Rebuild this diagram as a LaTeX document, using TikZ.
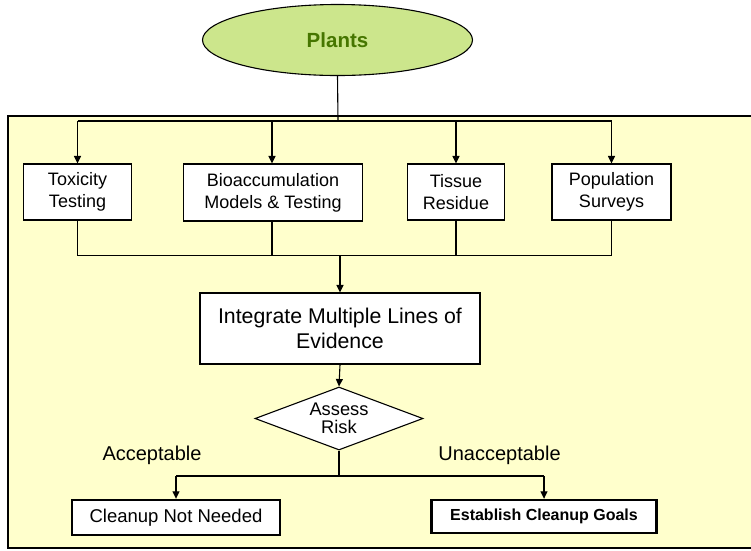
\documentclass[tikz,border=0pt]{standalone}
\usepackage{fontspec}
\setmainfont{Liberation Sans}
\usetikzlibrary{arrows.meta,shapes.geometric}
\definecolor{panelfill}{RGB}{255,255,204}
\definecolor{ellfill}{RGB}{204,230,140}
\definecolor{elltext}{RGB}{70,118,0}
\tikzset{
  line/.style={line width=1.1pt},
  arr/.style={line width=1.1pt,-{Triangle[length=7.5pt,width=7pt]}},
  stepbox/.style={draw=black,line width=1.1pt,fill=white,align=center,inner sep=0pt,
    font=\fontsize{18}{22}\selectfont},
  endbox/.style={draw=black,line width=2.4pt,fill=white,align=center,inner sep=0pt},
  lbl/.style={font=\fontsize{20}{24}\selectfont,inner sep=0pt}
}
\begin{document}
\begin{tikzpicture}[x=1pt,y=-1pt]
\useasboundingbox (0,0) rectangle (751,550);
% panel
\fill[panelfill] (8,116) rectangle (751,548);
\draw[line width=1.4pt] (751,116) -- (8,116) -- (8,548) -- (751,548);
% top ellipse
\node[ellipse,draw=black,line width=1.1pt,fill=ellfill,minimum width=270pt,minimum height=71pt,inner sep=0pt,
  font=\fontsize{20.5}{24}\selectfont\bfseries,text=elltext] (plants) at (337.5,40) {Plants};
% evidence boxes
\node[stepbox,minimum width=108pt,minimum height=56pt] (tox) at (77.5,192) {Toxicity\\Testing};
\node[stepbox,minimum width=179pt,minimum height=57pt] (bio) at (273,192.5) {Bioaccumulation\\Models \& Testing};
\node[stepbox,minimum width=97pt,minimum height=56pt] (tis) at (456,192) {Tissue\\Residue};
\node[stepbox,minimum width=119pt,minimum height=56pt] (pop) at (611.5,192) {Population\\Surveys};
% integrate
\node[stepbox,minimum width=280pt,minimum height=71pt,font=\fontsize{21.3}{25}\selectfont] (integ) at (340,328.5) {Integrate Multiple Lines of\\Evidence};
% diamond
\node[diamond,draw=black,line width=1.1pt,fill=white,minimum width=168pt,minimum height=63pt,inner sep=0pt] (risk) at (339,418.5) {};
\node[align=center,inner sep=0pt,font=\fontsize{18.3}{18}\selectfont] (risktext) at (339,418) {Assess\\Risk};
% outcomes
\node[endbox,minimum width=208pt,minimum height=35pt,font=\fontsize{18.5}{22}\selectfont] (clean) at (176,517.5) {Cleanup Not Needed};
\node[endbox,minimum width=225pt,minimum height=33pt,font=\fontsize{16}{20}\selectfont\bfseries] (goals) at (544,516.5) {Establish Cleanup Goals};
% labels
\node[lbl] (acc) at (152,455) {Acceptable};
\node[lbl] (unacc) at (499.5,455) {Unacceptable};
% connectors
\coordinate (bus) at (338,121);
\coordinate (join) at (340,255.5);
\coordinate (split) at (339,476);
\draw[line] (plants.south) -- (bus);
\draw[line] (tox.north |- bus) -- (pop.north |- bus);
\draw[arr] (tox.north |- bus) -- (tox.north);
\draw[arr] ([xshift=-1pt]bio.north |- bus) -- ([xshift=-1pt]bio.north);
\draw[arr] (tis.north |- bus) -- (tis.north);
\draw[arr] (pop.north |- bus) -- (pop.north);
\draw[line] (tox.south) -- (tox.south |- join) -- (pop.south |- join) -- (pop.south);
\draw[line] ([xshift=-1pt]bio.south) -- ([xshift=-1pt]bio.south |- join);
\draw[line] (tis.south) -- (tis.south |- join);
\draw[arr] (join) -- (integ.north);
\draw[arr] (integ.south) -- (risk.north);
\draw[line] (risk.south) -- (split);
\draw[line] (clean.north |- split) -- (goals.north |- split);
\draw[arr] (clean.north |- split) -- (clean.north);
\draw[arr] (goals.north |- split) -- (goals.north);
\end{tikzpicture}
\end{document}
